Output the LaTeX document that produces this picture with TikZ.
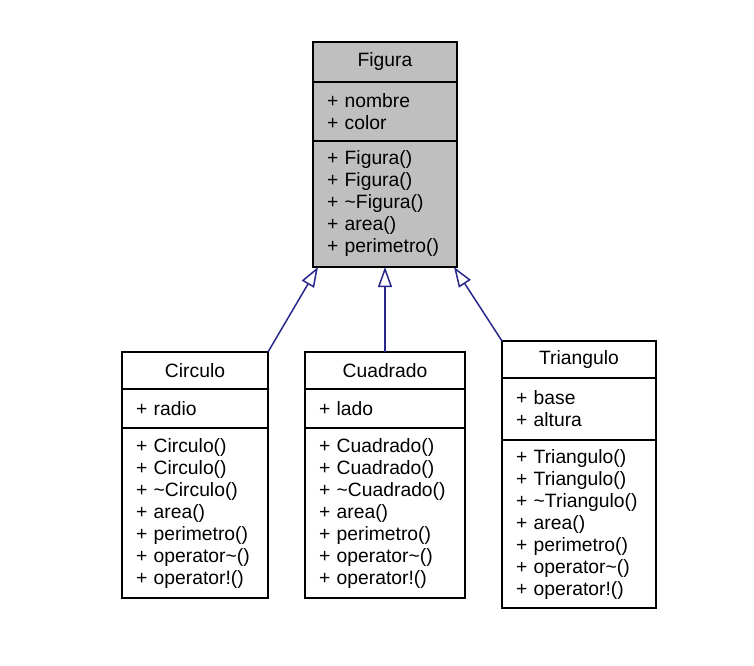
\documentclass[tikz,border=0pt]{standalone}
\usepackage{fontspec}
\setmainfont{Liberation Sans}
\usetikzlibrary{arrows.meta,positioning}
\definecolor{inhblue}{RGB}{40,40,140}
\newcommand{\tld}{\textasciitilde}

\tikzset{
  part/.style={draw, line width=1.3pt, inner xsep=14pt, inner ysep=0pt, outer sep=0pt,
    align=left, font=\fontsize{19.3}{22}\selectfont},
  titlepart/.style={part, align=center, minimum height=37pt},
  inh/.style={draw=inhblue, line width=1.5pt, -{Triangle[open, length=20pt, width=14pt]}}
}

\begin{document}
\begin{tikzpicture}[x=1pt, y=-1pt]
  \useasboundingbox (0,0) rectangle (754,665);

  % Base class
  \node[titlepart, fill=black!25, text width=116pt, minimum height=40pt, anchor=north] (fig) at (385,42) {Figura};
  \node[part, fill=black!25, text width=116pt, minimum height=59pt, below=0pt of fig] (fig_a) {+ nombre\\+ color};
  \node[part, fill=black!25, text width=116pt, minimum height=126pt, below=0pt of fig_a] (fig_m)
    {+ Figura()\\+ Figura()\\+ \tld Figura()\\+ area()\\+ perimetro()};

  % Circulo
  \node[titlepart, text width=118pt, anchor=north] (circ) at (195,352) {Circulo};
  \node[part, text width=118pt, minimum height=39pt, below=0pt of circ] (circ_a) {+ radio};
  \node[part, text width=118pt, minimum height=170pt, below=0pt of circ_a] (circ_m)
    {+ Circulo()\\+ Circulo()\\+ \tld Circulo()\\+ area()\\+ perimetro()\\+ operator\tld()\\+ operator!()};

  % Cuadrado
  \node[titlepart, text width=132pt, anchor=north] (cuad) at (385,352) {Cuadrado};
  \node[part, text width=132pt, minimum height=39pt, below=0pt of cuad] (cuad_a) {+ lado};
  \node[part, text width=132pt, minimum height=170pt, below=0pt of cuad_a] (cuad_m)
    {+ Cuadrado()\\+ Cuadrado()\\+ \tld Cuadrado()\\+ area()\\+ perimetro()\\+ operator\tld()\\+ operator!()};

  % Triangulo
  \node[titlepart, text width=126pt, anchor=north] (tri) at (579,341) {Triangulo};
  \node[part, text width=126pt, minimum height=62pt, below=0pt of tri] (tri_a) {+ base\\+ altura};
  \node[part, text width=126pt, minimum height=168pt, below=0pt of tri_a] (tri_m)
    {+ Triangulo()\\+ Triangulo()\\+ \tld Triangulo()\\+ area()\\+ perimetro()\\+ operator\tld()\\+ operator!()};

  % Inheritance
  \draw[inh] (circ.north east) -- ([xshift=5pt]fig_m.south west);
  \draw[inh] (cuad.north) -- (fig_m.south);
  \draw[inh] (tri.north west) -- ([xshift=-3pt]fig_m.south east);
\end{tikzpicture}
\end{document}
